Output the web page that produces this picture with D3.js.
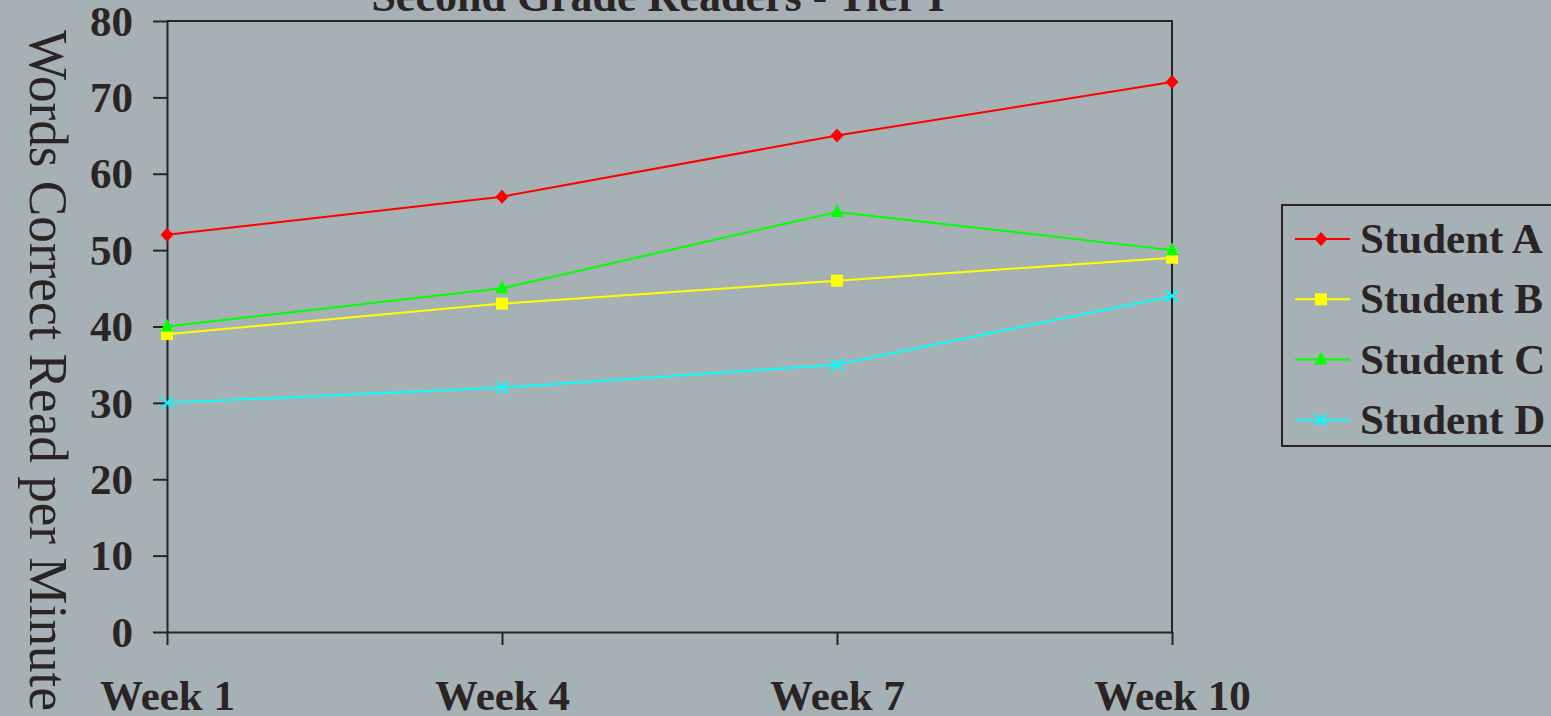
<!DOCTYPE html>
<html>
<head>
<meta charset="utf-8">
<script src="https://cdn.jsdelivr.net/npm/d3@7/dist/d3.min.js"></script>
<style>
  html, body { margin: 0; padding: 0; background: #a5b1b5; overflow: hidden; }
  svg { display: block; }
</style>
</head>
<body>
<svg id="chart" width="1551" height="716"></svg>
<script>
// Reading fluency data: words correct per minute by assessment week
const weeks = ["Week 1", "Week 4", "Week 7", "Week 10"];
const studentNames = ["Student A", "Student B", "Student C", "Student D"];
const studentA = [52, 57, 65, 72];
const studentB = [39, 43, 46, 49];
const studentC = [40, 45, 55, 50];
const studentD = [30, 32, 35, 44];
const yTicks = [0, 10, 20, 30, 40, 50, 60, 70, 80];
const seriesColors = ["#ff0000", "#ffff00", "#00ff00", "#00ffff"];
const markerKinds = ["diamond", "square", "triangle", "cross"];

const series = studentNames.map((name, i) => ({
  name,
  values: [studentA, studentB, studentC, studentD][i],
  color: seriesColors[i],
  marker: markerKinds[i]
}));

const ink = "#2b2424";
const serif = "'Liberation Serif', 'Times New Roman', serif";

const svg = d3.select("#chart");
const plot = { left: 167, top: 21, right: 1172, bottom: 632 };

const x = d3.scalePoint().domain(weeks).range([plot.left, plot.right]).padding(0);
const y = d3.scaleLinear().domain([0, 80]).range([plot.bottom, plot.top]);

// plot frame (top and right edges)
svg.append("path")
  .attr("d", `M${plot.left},${plot.top}H${plot.right}V${plot.bottom}`)
  .attr("fill", "none").attr("stroke", ink).attr("stroke-width", 2);

// Y axis
const yAxis = svg.append("g")
  .attr("transform", `translate(${plot.left},0)`)
  .call(d3.axisLeft(y).tickValues(yTicks).tickSize(14).tickPadding(20).tickSizeOuter(0));
yAxis.select(".domain").attr("stroke", ink).attr("stroke-width", 2);
yAxis.selectAll(".tick line").attr("stroke", ink).attr("stroke-width", 2);
yAxis.selectAll(".tick text")
  .attr("fill", ink).attr("font-family", serif).attr("font-weight", "bold")
  .attr("font-size", 43).attr("dy", "0.33em");

// X axis
const xAxis = svg.append("g")
  .attr("transform", `translate(0,${plot.bottom})`)
  .call(d3.axisBottom(x).tickSize(13).tickPadding(0).tickSizeOuter(0));
xAxis.select(".domain").attr("stroke", ink).attr("stroke-width", 2);
xAxis.selectAll(".tick line").attr("stroke", ink).attr("stroke-width", 2);
xAxis.selectAll(".tick text")
  .attr("fill", ink).attr("font-family", serif).attr("font-weight", "bold")
  .attr("font-size", 43).attr("y", 78).attr("dy", 0);

// Title (partly above the top edge)
svg.append("text")
  .attr("x", 658).attr("y", 11)
  .attr("text-anchor", "middle")
  .attr("font-family", serif).attr("font-weight", "bold").attr("font-size", 44)
  .attr("fill", ink)
  .text("Second Grade Readers - Tier I");

// Y axis title
svg.append("text")
  .attr("transform", "translate(30,30) rotate(90)")
  .attr("font-family", serif).attr("font-size", 54)
  .attr("textLength", 681).attr("lengthAdjust", "spacingAndGlyphs")
  .attr("fill", ink)
  .text("Words Correct Read per Minute");

// marker drawing helper
function drawMarker(g, kind, color, cx, cy) {
  if (kind === "diamond") {
    g.append("path").attr("d", `M${cx},${cy - 7}L${cx + 6.5},${cy}L${cx},${cy + 7}L${cx - 6.5},${cy}Z`)
      .attr("fill", color);
  } else if (kind === "square") {
    g.append("rect").attr("x", cx - 6).attr("y", cy - 6).attr("width", 12).attr("height", 12)
      .attr("fill", color);
  } else if (kind === "triangle") {
    g.append("path").attr("d", `M${cx},${cy - 8}L${cx + 6.5},${cy + 5}L${cx - 6.5},${cy + 5}Z`)
      .attr("fill", color);
  } else {
    g.append("path").attr("d", `M${cx - 6},${cy - 6}L${cx + 6},${cy + 6}M${cx - 6},${cy + 6}L${cx + 6},${cy - 6}`)
      .attr("stroke", color).attr("stroke-width", 2).attr("fill", "none");
  }
}

const line = d3.line().x((d, i) => x(weeks[i])).y(d => y(d));

series.forEach(s => {
  const g = svg.append("g");
  g.append("path").datum(s.values)
    .attr("d", line)
    .attr("fill", "none").attr("stroke", s.color).attr("stroke-width", 2);
  s.values.forEach((v, i) => drawMarker(g, s.marker, s.color, x(weeks[i]), y(v)));
});

// Legend
const legend = svg.append("g");
legend.append("rect")
  .attr("x", 1282).attr("y", 205).attr("width", 290).attr("height", 241)
  .attr("fill", "none").attr("stroke", ink).attr("stroke-width", 2);
series.forEach((s, i) => {
  const cy = 239 + i * 60.3;
  const g = legend.append("g");
  g.append("line").attr("x1", 1295).attr("x2", 1350).attr("y1", cy).attr("y2", cy)
    .attr("stroke", s.color).attr("stroke-width", 2);
  drawMarker(g, s.marker, s.color, 1321, cy);
  g.append("text")
    .attr("x", 1360).attr("y", cy + 14)
    .attr("font-family", serif).attr("font-weight", "bold").attr("font-size", 43)
    .attr("fill", ink)
    .text(s.name);
});
</script>
</body>
</html>
